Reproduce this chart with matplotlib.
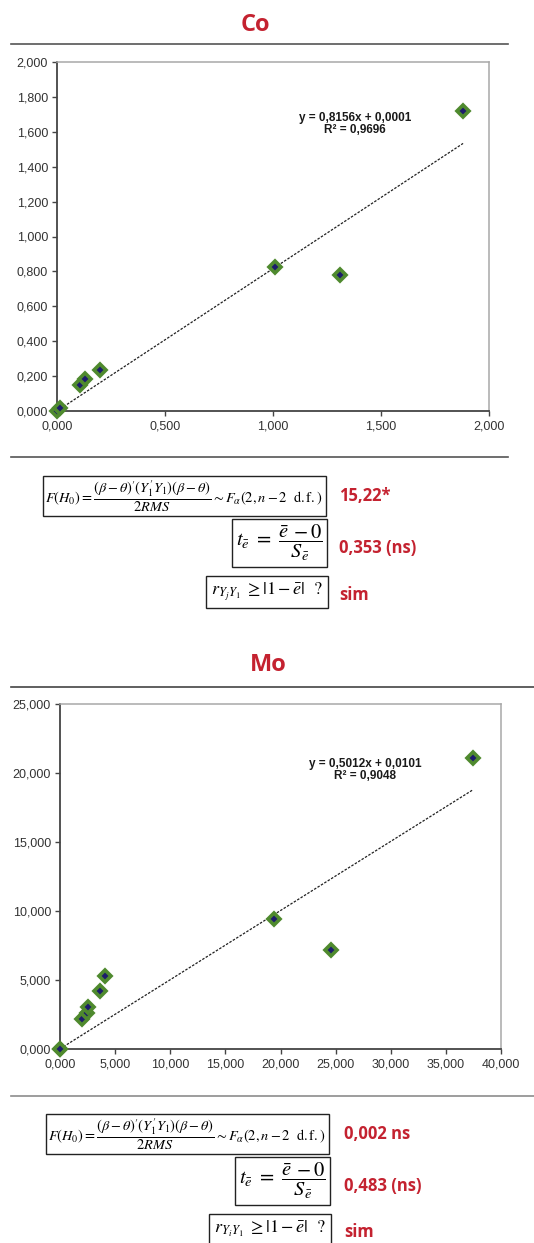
import matplotlib
matplotlib.use('Agg')
import matplotlib.pyplot as plt
from matplotlib.lines import Line2D
from matplotlib.ticker import FixedLocator, FuncFormatter

# Co data
co_x = [0.000, 0.015, 0.106, 0.128, 0.199, 1.009, 1.310, 1.880]
co_y = [0.000, 0.020, 0.147, 0.182, 0.233, 0.826, 0.780, 1.719]
co_slope, co_icpt, co_r2 = 0.8156, 0.0001, 0.9696
co_ticks = [0.0, 0.5, 1.0, 1.5, 2.0]
co_yticks = [0.0, 0.2, 0.4, 0.6, 0.8, 1.0, 1.2, 1.4, 1.6, 1.8, 2.0]
co_res = ['15,22*', '0,353 (ns)', 'sim']

# Mo data
mo_x = [0.000, 0.030, 1.995, 2.418, 2.509, 3.658, 4.112, 19.44, 24.55, 37.49]
mo_y = [0.000, 0.020, 2.194, 2.604, 3.014, 4.196, 5.305, 9.453, 7.186, 21.09]
mo_slope, mo_icpt, mo_r2 = 0.5012, 0.0101, 0.9048
mo_ticks = [0, 5, 10, 15, 20, 25, 30, 35, 40]
mo_yticks = [0, 5, 10, 15, 20, 25]
mo_res = ['0,002 ns', '0,483 (ns)', 'sim']

plt.rcParams['font.family'] = ['Liberation Sans', 'DejaVu Sans']
plt.rcParams['mathtext.fontset'] = 'stix'

W, H = 534, 1243
fig = plt.figure(figsize=(W / 100, H / 100), dpi=100)
RED = '#C42230'
GREEN = '#4F8A2E'
NAVY = '#1C1C6B'


def fx(px):
    return px / W


def fy(py):
    return 1 - py / H


def hline(py, x0, x1, color):
    fig.add_artist(Line2D([fx(x0), fx(x1)], [fy(py), fy(py)], color=color, lw=1.2,
                          transform=fig.transFigure))


def comma(v, pos=None):
    return '{:.3f}'.format(v).replace('.', ',')


def scatter_panel(rect, xs, ys, slope, icpt, r2, xt, yt, eqx, eqy):
    ax = fig.add_axes(rect)
    ax.plot(xs, ys, 'D', ms=6.5, mfc=NAVY, mec=GREEN, mew=2.6, ls='none', clip_on=False, zorder=3)
    x_end = max(xs)
    ax.plot([0, x_end], [icpt, slope * x_end + icpt], ls=(0, (2.0, 1.2)), color='#202020', lw=0.9, zorder=2)
    eq = 'y = {:.4f}x + {:.4f}\nR² = {:.4f}'.format(slope, icpt, r2).replace('.', ',')
    ax.text(eqx, eqy, eq, ha='center', va='center', fontsize=8.5, fontweight='bold',
            color='#1a1a1a', linespacing=1.05)
    ax.set_xlim(xt[0], xt[-1])
    ax.set_ylim(yt[0], yt[-1])
    ax.xaxis.set_major_locator(FixedLocator(xt))
    ax.yaxis.set_major_locator(FixedLocator(yt))
    ax.xaxis.set_major_formatter(FuncFormatter(comma))
    ax.yaxis.set_major_formatter(FuncFormatter(comma))
    for s in ['left', 'bottom']:
        ax.spines[s].set_color('#444444')
        ax.spines[s].set_linewidth(1.3)
    for s in ['top', 'right']:
        ax.spines[s].set_color('#a8a8a8')
        ax.spines[s].set_linewidth(1.1)
    ax.tick_params(direction='out', length=3.5, width=1, color='#444444',
                   labelsize=9, labelcolor='#333333', pad=3)
    return ax


def formulas(y1, y2, y3, xr, xv, sub, res):
    box = dict(boxstyle='square,pad=0.2', fc='white', ec='#222222', lw=1)
    f1 = (r"$F(H_0) = \dfrac{(\beta-\theta)^{\prime}(Y_1^{\prime}Y_1)(\beta-\theta)}{2RMS}"
          r" \sim F_{\alpha}(2, n-2\ \ \mathrm{d.f.})$")
    f2 = r"$t_{\bar{e}}\ =\ \dfrac{\bar{e}\,-0}{S_{\bar{e}}}$"
    f3 = r"$r_{Y_" + sub + r"Y_1}\ \geq \left|1-\bar{e}\right|\ \ ?$"
    fig.text(fx(xr), fy(y1), f1, ha='right', va='center', fontsize=10.4, bbox=box)
    fig.text(fx(xr), fy(y2), f2, ha='right', va='center', fontsize=14.8, bbox=box)
    fig.text(fx(xr), fy(y3), f3, ha='right', va='center', fontsize=13,
             bbox=dict(boxstyle='square,pad=0.3', fc='white', ec='#222222', lw=1))
    for yy, t in zip([y1, y2 + 5, y3 + 3], res):
        fig.text(fx(xv), fy(yy), t, ha='left', va='center', fontsize=12,
                 fontweight='bold', color=RED, family=['Open Sans', 'DejaVu Sans'])


# Co panel
fig.text(fx(255), fy(25), 'Co', ha='center', va='center', fontsize=17, fontweight='bold',
         color=RED, family=['Open Sans', 'DejaVu Sans'])
hline(44, 11, 508, '#555555')
scatter_panel([fx(57), fy(411), (489 - 57) / W, (411 - 62) / H], co_x, co_y,
              co_slope, co_icpt, co_r2, co_ticks, co_yticks, 1.38, 1.645)
hline(457, 11, 508, '#555555')
formulas(496, 543, 592, 323, 339, 'j', co_res)

# Mo panel
fig.text(fx(268), fy(665), 'Mo', ha='center', va='center', fontsize=17, fontweight='bold',
         color=RED, family=['Open Sans', 'DejaVu Sans'])
hline(687, 11, 534, '#444444')
scatter_panel([fx(60), fy(1049), (501 - 60) / W, (1049 - 704) / H], mo_x, mo_y,
              mo_slope, mo_icpt, mo_r2, mo_ticks, mo_yticks, 27.66, 20.22)
hline(1096, 11, 534, '#8c8c8c')
formulas(1134, 1181, 1229, 326, 344, 'i', mo_res)

fig.savefig('out.png', dpi=100)
